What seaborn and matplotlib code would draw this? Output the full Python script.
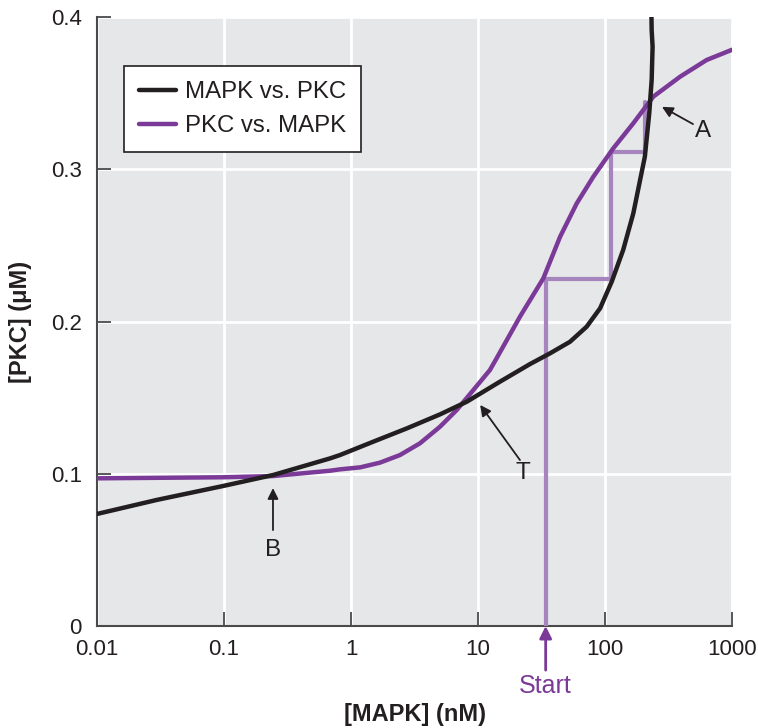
import matplotlib
matplotlib.use("Agg")
import matplotlib.pyplot as plt
import seaborn as sns
import pandas as pd

# ---- data ----
black_x = [0.01, 0.0295, 0.0988, 0.244, 0.684, 0.819, 1.50, 2.75, 5.02, 8.15, 14.9, 25.6, 36.9,
           53.0, 71.7, 91.5, 113.0, 139.0, 167.0, 206.0, 223.0, 233.0, 237.0, 233.0, 232.0]
black_y = [0.0736, 0.0828, 0.0920, 0.0992, 0.1101, 0.1123, 0.1211, 0.1298, 0.1390, 0.1473, 0.1605, 0.1720, 0.1791,
           0.1867, 0.1966, 0.2087, 0.2262, 0.2470, 0.2710, 0.3083, 0.3367, 0.3586, 0.3805, 0.3915, 0.402]

purple_x = [0.01, 0.0988, 0.244, 0.684, 0.819, 1.18, 1.69, 2.43, 3.49, 5.02, 6.8, 9.19, 12.4, 14.0, 21.4, 32.7,
            44.3, 59.9, 80.9, 116.0, 167.0, 240.0, 390.0, 632.0, 1000.0]
purple_y = [0.0970, 0.0977, 0.0985, 0.1020, 0.1029, 0.1042, 0.1073, 0.1123, 0.1200, 0.1309, 0.1419, 0.1550, 0.1681,
            0.1758, 0.2032, 0.2284, 0.2557, 0.2776, 0.2951, 0.3137, 0.3302, 0.3477, 0.3608, 0.3718, 0.3785]

step_x = [34.1, 34.1, 111.5, 111.5, 206.6, 206.6]
step_y = [0.0, 0.2277, 0.2277, 0.3115, 0.3115, 0.3444]

x_ticks = [0.01, 0.1, 1, 10, 100, 1000]
x_tick_labels = ["0.01", "0.1", "1", "10", "100", "1000"]
y_ticks = [0, 0.1, 0.2, 0.3, 0.4]
y_tick_labels = ["0", "0.1", "0.2", "0.3", "0.4"]

series_labels = ["MAPK vs. PKC", "PKC vs. MAPK"]

BLACK = "#231f20"
PURPLE = "#7b3a98"
LIGHT_PURPLE = "#a684bd"
BG = "#e6e7e9"

sns.set_theme(style="darkgrid", rc={"axes.facecolor": BG, "grid.color": "white", "grid.linewidth": 2.0})
plt.rcParams["font.family"] = ["Liberation Sans", "DejaVu Sans"]

fig = plt.figure(figsize=(7.58, 7.28), dpi=100)
ax = fig.add_axes([0.128, 0.1401, 0.8377, 0.8365])

df_black = pd.DataFrame({"x": black_x, "y": black_y})
df_purple = pd.DataFrame({"x": purple_x, "y": purple_y})
df_step = pd.DataFrame({"x": step_x, "y": step_y})

sns.lineplot(data=df_step, x="x", y="y", sort=False, estimator=None, color=LIGHT_PURPLE, lw=3, ax=ax, zorder=3)
sns.lineplot(data=df_purple, x="x", y="y", sort=False, estimator=None, color=PURPLE, lw=3.2, ax=ax, zorder=4,
             label=series_labels[1])
sns.lineplot(data=df_black, x="x", y="y", sort=False, estimator=None, color=BLACK, lw=3.2, ax=ax, zorder=5,
             label=series_labels[0])
for ln in ax.get_lines():
    ln.set_solid_joinstyle("round")

ax.set_xscale("log")
ax.set_xlim(0.01, 1000)
ax.set_ylim(0, 0.4)
ax.set_xticks(x_ticks)
ax.set_xticklabels(x_tick_labels)
ax.set_yticks(y_ticks)
ax.set_yticklabels(y_tick_labels)
ax.minorticks_off()
ax.tick_params(axis="both", direction="in", length=10, width=1.3, color="#4a4a4a",
               labelsize=16, labelcolor="#231f20", bottom=True, left=True)
ax.tick_params(axis="x", pad=9)
ax.tick_params(axis="y", pad=11)

for side in ["top", "right"]:
    ax.spines[side].set_visible(False)
for side in ["left", "bottom"]:
    ax.spines[side].set_visible(True)
    ax.spines[side].set_color("#4a4a4a")
    ax.spines[side].set_linewidth(1.5)

ax.set_xlabel("[MAPK] (nM)", fontsize=17, fontweight="bold", color="#231f20")
ax.set_ylabel("[PKC] (\u03bcM)", fontsize=17, fontweight="bold", color="#231f20")
ax.xaxis.set_label_coords(0.5, -0.126)
ax.yaxis.set_label_coords(-0.103, 0.5)

# legend
handles, labels = ax.get_legend_handles_labels()
order = [labels.index(series_labels[0]), labels.index(series_labels[1])]
leg = ax.legend([handles[i] for i in order], [labels[i] for i in order],
                loc="upper left", bbox_to_anchor=(0.0425, 0.9195), borderaxespad=0,
                fontsize=17.3, frameon=True, fancybox=False, framealpha=1,
                edgecolor="#231f20", facecolor="white", handlelength=1.55,
                handletextpad=0.38, borderpad=0.62, labelspacing=0.52)
leg.get_frame().set_linewidth(1.2)
for t in leg.get_texts():
    t.set_color("#231f20")

# annotations
arrow_kw = dict(arrowstyle="-|>", color=BLACK, lw=1.3, mutation_scale=16, shrinkA=0, shrinkB=0)
ax.annotate("", xy=(281, 0.341), xytext=(493, 0.3297), arrowprops=arrow_kw)
ax.text(592, 0.325, "A", fontsize=17.5, ha="center", va="center", color=BLACK)
ax.annotate("", xy=(10.4, 0.1452), xytext=(21.4, 0.109), arrowprops=arrow_kw)
ax.text(22.6, 0.1005, "T", fontsize=17.5, ha="center", va="center", color=BLACK)
ax.annotate("", xy=(0.243, 0.0906), xytext=(0.243, 0.063), arrowprops=arrow_kw)
ax.text(0.243, 0.05, "B", fontsize=17.5, ha="center", va="center", color=BLACK)

ax.annotate("", xy=(step_x[0], 0.0), xytext=(step_x[0], -0.029), annotation_clip=False,
            arrowprops=dict(arrowstyle="-|>", color=PURPLE, lw=2, mutation_scale=18, shrinkA=0, shrinkB=0))
ax.text(step_x[0], -0.0395, "Start", fontsize=18, ha="center", va="center", color=PURPLE, clip_on=False)

fig.savefig("out.png", dpi=100)
